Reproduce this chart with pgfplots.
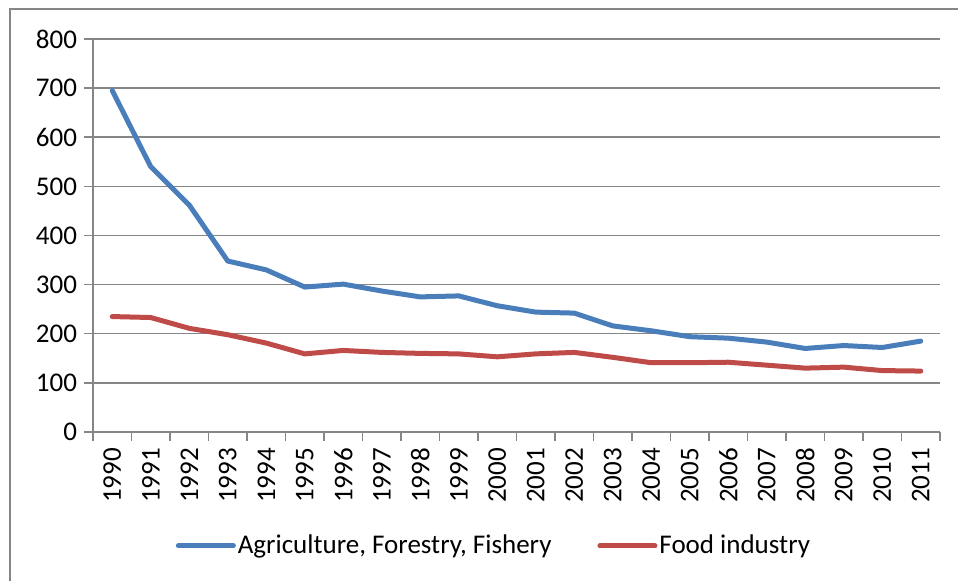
\documentclass[border=0pt]{standalone}
\usepackage{pgfplots}
\pgfplotsset{compat=1.18}
\usepackage{fontspec}
\setmainfont{Carlito}
\definecolor{agri}{RGB}{74,126,187}
\definecolor{food}{RGB}{190,75,72}
\definecolor{rule}{RGB}{134,134,134}
\begin{document}
\begin{tikzpicture}
\useasboundingbox (0,0) rectangle (479pt,290.5pt);
% chart area border (right and bottom edges lie outside the crop)
\draw[rule, line width=0.75pt] (5pt,-5pt) -- (5pt,286pt) -- (485pt,286pt);
\begin{axis}[
  at={(46.5pt,74.5pt)}, anchor=south west,
  scale only axis, width=423.5pt, height=196.5pt,
  xmin=-0.5, xmax=21.5, ymin=0, ymax=800,
  ytick={0,100,...,800},
  xtick={-0.5,0.5,...,21.5},
  x tick label as interval,
  xticklabels={1990,1991,1992,1993,1994,1995,1996,1997,1998,1999,2000,2001,2002,2003,2004,2005,2006,2007,2008,2009,2010,2011},
  axis lines*=left,
  axis line style={rule, line width=0.75pt},
  tick style={rule, line width=0.75pt},
  tick align=outside, major tick length=4.5pt,
  ymajorgrids, grid style={rule, line width=0.75pt},
  /pgf/number format/assume math mode=true,
  tick label style={font=\fontsize{13.5}{16}\selectfont, black},
  xticklabel style={rotate=90, anchor=east, xshift=0pt},
  legend columns=-1,
  legend style={at={(0.4734,-0.29)}, anchor=center, draw=none, fill=none,
    font=\fontsize{13.5}{16}\selectfont,
    /tikz/every even column/.append style={column sep=22pt},
    nodes={inner sep=1pt}},
  legend image code/.code={\draw[#1, line width=2.5pt] (0pt,0pt) -- (27.5pt,0pt);},
  clip=false,
]
\addplot[agri, line width=2.5pt, line join=round, line cap=round] coordinates {
  (0,695) (1,540) (2,462) (3,348) (4,330) (5,295) (6,301) (7,287) (8,275) (9,277)
  (10,257) (11,244) (12,242) (13,216) (14,206) (15,194) (16,191) (17,183) (18,170)
  (19,176) (20,172) (21,185)};
\addplot[food, line width=2.5pt, line join=round, line cap=round] coordinates {
  (0,235) (1,233) (2,211) (3,198) (4,181) (5,159) (6,166) (7,162) (8,160) (9,159)
  (10,153) (11,159) (12,162) (13,152) (14,141) (15,141) (16,142) (17,136) (18,130)
  (19,132) (20,125) (21,124)};
\legend{{Agriculture, Forestry, Fishery}, Food industry}
\end{axis}
\end{tikzpicture}
\end{document}
